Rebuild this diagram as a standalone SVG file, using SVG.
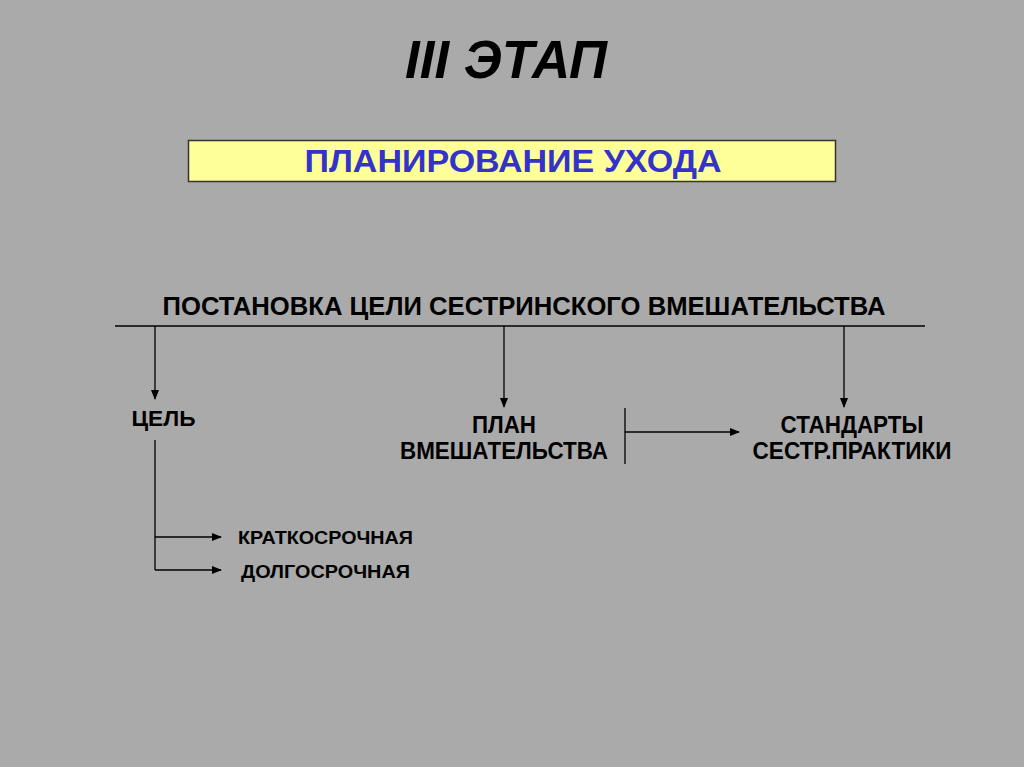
<svg xmlns="http://www.w3.org/2000/svg" width="1024" height="767" viewBox="0 0 1024 767">
<style>
.t{font-family:"Liberation Sans",Arial,sans-serif;font-weight:bold;fill:#000}
.ln{stroke:#000;stroke-width:1.3;fill:none}
</style>
<defs>
<marker id="ah" markerWidth="10" markerHeight="8" refX="9" refY="4" orient="auto" markerUnits="userSpaceOnUse">
<path d="M0,0 L10,4 L0,8 Z" fill="#000"/>
</marker>
</defs>
<rect width="1024" height="767" fill="#aaaaaa"/>
<g id="title"><text class="t" x="506" y="78" font-size="53" font-style="italic" text-anchor="middle" textLength="202" lengthAdjust="spacingAndGlyphs">III ЭТАП</text></g>
<g id="planning">
<rect x="188.5" y="140.5" width="647" height="41" fill="#ffff99" stroke="#333" stroke-width="1.5"/>
<text class="t" x="513" y="172" font-size="32" text-anchor="middle" style="fill:#3333cc" textLength="417" lengthAdjust="spacingAndGlyphs">ПЛАНИРОВАНИЕ УХОДА</text>
</g>
<g id="goal-setting"><text class="t" x="524" y="315" font-size="25" text-anchor="middle" textLength="723" lengthAdjust="spacingAndGlyphs">ПОСТАНОВКА ЦЕЛИ СЕСТРИНСКОГО ВМЕШАТЕЛЬСТВА</text></g>
<g id="goal"><text class="t" x="163.5" y="426" font-size="22" text-anchor="middle" textLength="64" lengthAdjust="spacingAndGlyphs">ЦЕЛЬ</text></g>
<g id="plan">
<text class="t" x="504" y="433" font-size="23" text-anchor="middle" textLength="64" lengthAdjust="spacingAndGlyphs">ПЛАН</text>
<text class="t" x="504" y="459" font-size="23" text-anchor="middle" textLength="208" lengthAdjust="spacingAndGlyphs">ВМЕШАТЕЛЬСТВА</text>
</g>
<g id="standards">
<text class="t" x="852" y="433" font-size="23" text-anchor="middle" textLength="143" lengthAdjust="spacingAndGlyphs">СТАНДАРТЫ</text>
<text class="t" x="852" y="459" font-size="23" text-anchor="middle" textLength="199" lengthAdjust="spacingAndGlyphs">СЕСТР.ПРАКТИКИ</text>
</g>
<g id="short"><text class="t" x="238" y="544" font-size="19" textLength="175" lengthAdjust="spacingAndGlyphs">КРАТКОСРОЧНАЯ</text></g>
<g id="long"><text class="t" x="241" y="578" font-size="19" textLength="169" lengthAdjust="spacingAndGlyphs">ДОЛГОСРОЧНАЯ</text></g>
<g id="connectors">
<line class="ln" x1="115" y1="326" x2="925" y2="326"/>
<line class="ln" x1="155" y1="326" x2="155" y2="399" marker-end="url(#ah)"/>
<line class="ln" x1="504" y1="326" x2="504" y2="407" marker-end="url(#ah)"/>
<line class="ln" x1="844" y1="326" x2="844" y2="407" marker-end="url(#ah)"/>
<line class="ln" x1="625" y1="408" x2="625" y2="464"/>
<line class="ln" x1="625" y1="432" x2="739" y2="432" marker-end="url(#ah)"/>
<line class="ln" x1="155" y1="440" x2="155" y2="570"/>
<line class="ln" x1="155" y1="537" x2="221" y2="537" marker-end="url(#ah)"/>
<line class="ln" x1="155" y1="570" x2="221" y2="570" marker-end="url(#ah)"/>
</g>
</svg>
